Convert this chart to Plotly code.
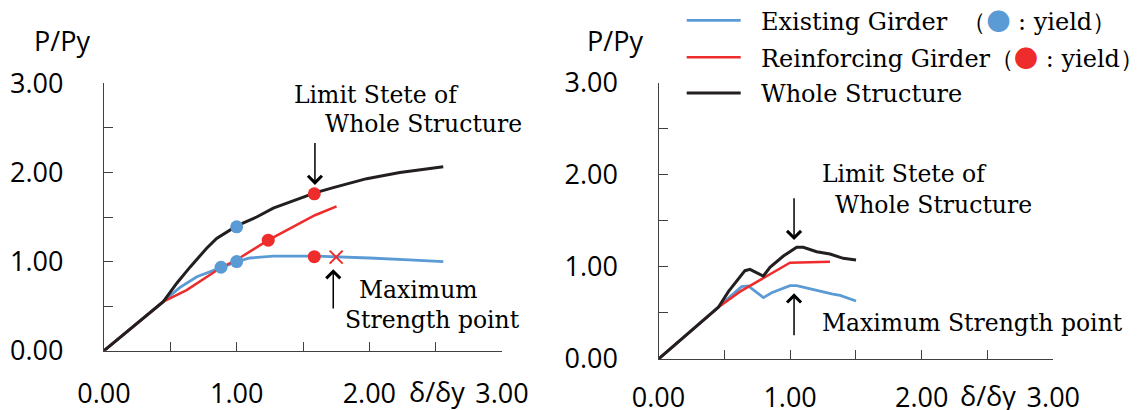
import plotly.graph_objects as go

# ---------------- data ----------------
TICK_VALS = [0, 0.5, 1, 1.5, 2, 2.5, 3]
TICK_TEXT = ["0.00", "", "1.00", "", "2.00", "", "3.00"]

# Left chart
L_blue_x = [0, 0.447, 0.52, 0.573, 0.70, 0.882, 1.0, 1.10, 1.276, 1.6, 1.75, 2.0, 2.3, 2.557]
L_blue_y = [0, 0.55, 0.65, 0.71, 0.83, 0.936, 1.0, 1.04, 1.06, 1.06, 1.055, 1.04, 1.02, 1.0]
L_red_x = [0, 0.447, 0.623, 0.874, 1.0, 1.238, 1.59, 1.753]
L_red_y = [0, 0.55, 0.68, 0.925, 1.02, 1.24, 1.52, 1.62]
L_black_x = [0, 0.447, 0.55, 0.65, 0.774, 0.849, 1.0, 1.151, 1.276, 1.40, 1.59, 1.728, 1.98, 2.23, 2.557]
L_black_y = [0, 0.55, 0.76, 0.94, 1.15, 1.26, 1.40, 1.50, 1.60, 1.67, 1.77, 1.83, 1.93, 2.0, 2.065]

L_blue_yield_x = [0.882, 1.0, 1.0]
L_blue_yield_y = [0.936, 1.0, 1.39]
L_red_yield_x = [1.238, 1.585, 1.585]
L_red_yield_y = [1.24, 1.76, 1.055]
L_maxpt_x = [1.75]
L_maxpt_y = [1.05]

# Right chart
R_blue_x = [0, 0.455, 0.543, 0.632, 0.682, 0.797, 0.86, 0.999, 1.05, 1.202, 1.316, 1.38, 1.501]
R_blue_y = [0, 0.561, 0.677, 0.785, 0.793, 0.666, 0.72, 0.796, 0.796, 0.742, 0.706, 0.69, 0.63]
R_red_x = [0, 0.455, 0.619, 0.797, 0.999, 1.303]
R_red_y = [0, 0.561, 0.731, 0.876, 1.046, 1.057]
R_black_x = [0, 0.34, 0.455, 0.531, 0.657, 0.695, 0.797, 0.847, 0.949, 1.05, 1.10, 1.202, 1.303, 1.404, 1.501]
R_black_y = [0, 0.423, 0.561, 0.731, 0.959, 0.974, 0.901, 0.995, 1.118, 1.213, 1.213, 1.165, 1.14, 1.093, 1.075]

DOT = "<span style=\"font-family:'Noto Sans CJK JP';color:{}\">●</span>"
NAMES = [
    "\u00a0\u00a0Existing Girder\u00a0\u00a0（" + DOT.format("#5b9bd5") + " : yield）",
    "\u00a0\u00a0Reinforcing Girder（" + DOT.format("#ee2c2c") + " : yield）",
    "\u00a0\u00a0Whole Structure",
]

# ---------------- styles ----------------
BLUE = "#5b9bd5"
RED = "#ee2c2c"
BLACK = "#231f20"
AX = "#404040"
SANS = "Open Sans"
SERIF = "DejaVu Serif"

fig = go.Figure()

# left chart lines (these carry the legend)
fig.add_trace(go.Scatter(x=L_blue_x, y=L_blue_y, mode="lines", line=dict(color=BLUE, width=2.8),
                         name=NAMES[0], legend="legend", xaxis="x", yaxis="y"))
fig.add_trace(go.Scatter(x=L_red_x, y=L_red_y, mode="lines", line=dict(color=RED, width=2.5),
                         name=NAMES[1], legend="legend2", xaxis="x", yaxis="y"))
fig.add_trace(go.Scatter(x=L_black_x, y=L_black_y, mode="lines", line=dict(color=BLACK, width=3),
                         name=NAMES[2], legend="legend3", xaxis="x", yaxis="y"))
fig.add_trace(go.Scatter(x=L_blue_yield_x, y=L_blue_yield_y, mode="markers",
                         marker=dict(color=BLUE, size=13), showlegend=False, xaxis="x", yaxis="y"))
fig.add_trace(go.Scatter(x=L_red_yield_x, y=L_red_yield_y, mode="markers",
                         marker=dict(color=RED, size=13), showlegend=False, xaxis="x", yaxis="y"))
fig.add_trace(go.Scatter(x=L_maxpt_x, y=L_maxpt_y, mode="markers",
                         marker=dict(symbol="x-thin-open", size=13, color=RED, line=dict(color=RED, width=2)),
                         showlegend=False, xaxis="x", yaxis="y"))

# right chart lines
fig.add_trace(go.Scatter(x=R_blue_x, y=R_blue_y, mode="lines", line=dict(color=BLUE, width=2.8),
                         showlegend=False, xaxis="x2", yaxis="y2"))
fig.add_trace(go.Scatter(x=R_red_x, y=R_red_y, mode="lines", line=dict(color=RED, width=2.5),
                         showlegend=False, xaxis="x2", yaxis="y2"))
fig.add_trace(go.Scatter(x=R_black_x, y=R_black_y, mode="lines", line=dict(color=BLACK, width=3),
                         showlegend=False, xaxis="x2", yaxis="y2"))


def axis(domain, standoff, anchor):
    return dict(domain=domain, anchor=anchor, range=[0, 3], tickmode="array",
                tickvals=TICK_VALS, ticktext=TICK_TEXT, ticks="inside", ticklen=9,
                tickwidth=1.3, tickcolor=AX, showline=True, linecolor=AX, linewidth=1.3,
                showgrid=False, zeroline=False, ticklabelstandoff=standoff,
                tickfont=dict(family=SANS, size=27, color="black"))


W, H = 1142, 410
layout = dict(
    width=W, height=H, margin=dict(l=0, r=0, t=0, b=0, autoexpand=False),
    paper_bgcolor="white", plot_bgcolor="white",
    xaxis=axis([104 / W, 502 / W], 19, "y"),
    yaxis=axis([(H - 350.7) / H, (H - 83.3) / H], 34, "x"),
    xaxis2=axis([658.5 / W, 1053.3 / W], 14, "y2"),
    yaxis2=axis([(H - 359) / H, (H - 82.7) / H], 34, "x2"),
)
for key, ypx in (("legend", 20.7), ("legend2", 57.7), ("legend3", 93.3)):
    layout[key] = dict(x=681.7 / W, y=(H - ypx) / H, xanchor="left", yanchor="middle",
                       itemwidth=54, bgcolor="rgba(0,0,0,0)", borderwidth=0,
                       font=dict(family=SERIF, size=24, color="black"))
fig.update_layout(**layout)

ann = []
tfont = dict(family=SERIF, size=23.5, color="black")


def txt(text, x, y, xr, yr):
    ann.append(dict(text=text, x=x, y=y, xref=xr, yref=yr, xanchor="left", yanchor="middle",
                    showarrow=False, font=tfont))


def arrow(x, y, ax_, ay_, xr, yr):
    ann.append(dict(text="", x=x, y=y, ax=ax_, ay=ay_, xref=xr, yref=yr, axref=xr, ayref=yr,
                    showarrow=True, arrowhead=4, arrowsize=1.8, arrowwidth=1.5, arrowcolor="black"))


# left annotations
txt("Limit Stete of", 1.414, 2.872, "x", "y")
txt("Whole Structure", 1.653, 2.542, "x", "y")
txt("Maximum", 1.904, 0.683, "x", "y")
txt("Strength point", 1.803, 0.350, "x", "y")
arrow(1.590, 1.860, 1.590, 2.346, "x", "y")
arrow(1.728, 0.914, 1.728, 0.457, "x", "y")

# right annotations
txt("Limit Stete of", 1.227, 2.007, "x2", "y2")
txt("Whole Structure", 1.328, 1.674, "x2", "y2")
txt("Maximum Strength point", 1.227, 0.389, "x2", "y2")
arrow(1.030, 1.292, 1.030, 1.762, "x2", "y2")
arrow(1.030, 0.713, 1.030, 0.242, "x2", "y2")

# axis titles
afont = dict(family=SANS, size=27, color="black")
for xr, yr, ys in (("x", "y", -41), ("x2", "y2", -36)):
    ann.append(dict(text="δ/δy", x=3, y=0, xref=xr, yref=yr, xanchor="right", yanchor="middle",
                    xshift=-35, yshift=ys, showarrow=False, font=afont))
for xpx in (31.7, 585):
    ann.append(dict(text="P/Py", x=xpx / W, y=(H - 41) / H, xref="paper", yref="paper",
                    xanchor="left", yanchor="middle", showarrow=False, font=afont))

fig.update_layout(annotations=ann)
fig.write_html("out.html", config={"displayModeBar": False},
               post_script="document.body.style.margin='0';document.body.style.overflow='hidden';")
